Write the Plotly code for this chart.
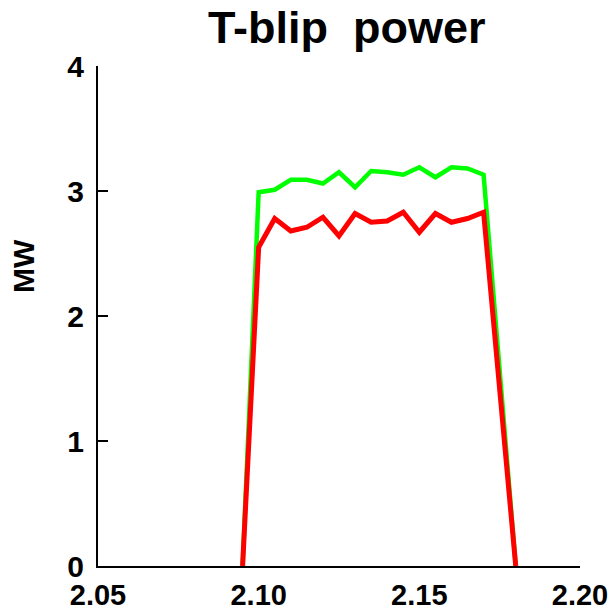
import plotly.graph_objects as go

t = [2.095, 2.100, 2.105, 2.110, 2.115, 2.120, 2.125, 2.130, 2.135,
     2.140, 2.145, 2.150, 2.155, 2.160, 2.165, 2.170, 2.180]
green = [0, 2.99, 3.01, 3.09, 3.09, 3.06, 3.15, 3.03, 3.16,
         3.15, 3.13, 3.19, 3.11, 3.19, 3.18, 3.13, 0]
red = [0, 2.55, 2.78, 2.68, 2.71, 2.79, 2.64, 2.82, 2.75,
       2.76, 2.83, 2.67, 2.82, 2.75, 2.78, 2.83, 0]

x_ticks = [2.05, 2.10, 2.15, 2.20]
x_labels = ["2.05", "2.10", "2.15", "2.20"]
y_ticks = [0, 1, 2, 3, 4]
y_minor = [1, 2, 3]

FONT = "Liberation Sans, Arial, sans-serif"

fig = go.Figure()
fig.add_trace(go.Scatter(x=t, y=green, mode="lines",
                         line=dict(color="#00ff00", width=4.5), showlegend=False))
fig.add_trace(go.Scatter(x=t, y=red, mode="lines",
                         line=dict(color="#ff0000", width=5), showlegend=False))
fig.add_trace(go.Scatter(x=[2.05], y=[0], yaxis="y2", mode="markers",
                         marker=dict(opacity=0), showlegend=False, hoverinfo="skip"))

fig.update_layout(
    width=613, height=613,
    margin=dict(l=98, r=33, t=66, b=47),
    paper_bgcolor="white", plot_bgcolor="rgba(0,0,0,0)",
    font=dict(family=FONT, color="black"),
    xaxis=dict(range=[2.05, 2.20], tickvals=x_ticks, ticktext=x_labels,
               showgrid=False, zeroline=False, showline=True, automargin=False,
               linecolor="black", linewidth=2,
               ticks="outside", ticklen=2, tickcolor="rgba(0,0,0,0)",
               tickfont=dict(size=29, weight="bold", family=FONT)),
    yaxis=dict(range=[0, 4], tickvals=y_ticks, showgrid=False, zeroline=False,
               showline=True, linecolor="black", linewidth=2, ticks="",
               automargin=False,
               tickfont=dict(size=30, weight="bold", family=FONT),
               ticklabelstandoff=6),
    yaxis2=dict(range=[0, 4], overlaying="y", anchor="x", side="left",
                tickvals=y_minor, ticktext=["", "", ""], automargin=False,
                ticks="inside", ticklen=10, tickwidth=2, tickcolor="black",
                showgrid=False, zeroline=False, showline=False),
)

fig.add_annotation(text="<b>T-blip  power</b>", xref="paper", yref="paper",
                   x=(347 - 98) / 482, y=(566 - 28) / 500,
                   xanchor="center", yanchor="middle", showarrow=False,
                   font=dict(size=45, family=FONT, color="black"))
fig.add_annotation(text="<b>MW</b>", xref="paper", yref="paper",
                   x=(23 - 98) / 482, y=(566 - 266) / 500, textangle=-90,
                   xanchor="center", yanchor="middle", showarrow=False,
                   font=dict(size=30, family=FONT, color="black"))

fig.write_html("out.html")
